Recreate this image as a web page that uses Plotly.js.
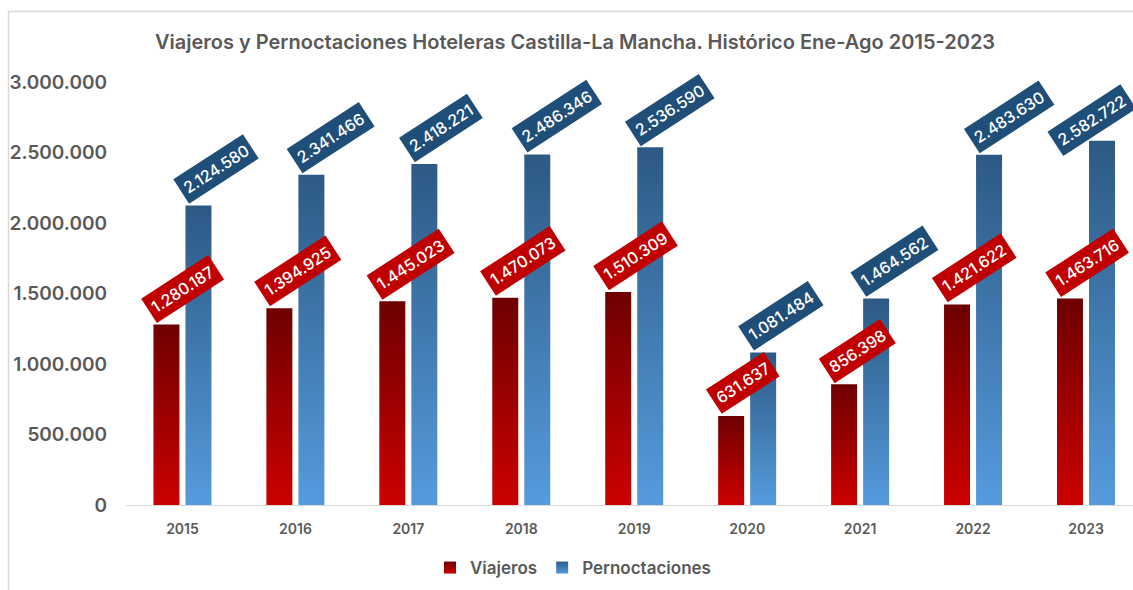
<!DOCTYPE html>
<html>
<head>
<meta charset="utf-8">
<script src="https://cdn.plot.ly/plotly-3.0.1.min.js"></script>
<style>
  html, body { margin: 0; padding: 0; background: #fff; }
  #grafico { width: 1133px; height: 590px; }
</style>
</head>
<body>
<div id="grafico"></div>
<script>
const anios = ["2015", "2016", "2017", "2018", "2019", "2020", "2021", "2022", "2023"];
const viajeros = [1280187, 1394925, 1445023, 1470073, 1510309, 631637, 856398, 1421622, 1463716];
const pernoctaciones = [2124580, 2341466, 2418221, 2486346, 2536590, 1081484, 1464562, 2483630, 2582722];
const ticksY = [0, 500000, 1000000, 1500000, 2000000, 2500000, 3000000];

const posX = anios.map((a, i) => i);
const ancho = 0.23;
const offRojo = -0.257;
const offAzul = 0.0265;

// miles con punto
const fmt = v => String(v).replace(/\B(?=(\d{3})+(?!\d))/g, ".");

// marco gris (coordenadas de papel a partir de pixeles)
const mL = 126, mT = 82, mB = 85, W = 1133, H = 590;
const pw = W - mL, ph = H - mT - mB;
const px = p => (p - mL) / pw;
const py = p => (H - mB - p) / ph;

const etiquetas = [];
viajeros.forEach((v, i) => etiquetas.push({
  x: i + offRojo, y: v, xref: "x", yref: "y",
  text: fmt(v), showarrow: false, textangle: -33,
  xanchor: "left", yanchor: "bottom", xshift: -13, yshift: 1,
  bgcolor: "#c00000", borderpad: 4,
  font: { family: "Inter, sans-serif", size: 16, color: "#ffffff", weight: 500 }
}));
pernoctaciones.forEach((v, i) => {
  // la ultima etiqueta se recoge hacia dentro del grafico
  const ultima = i === pernoctaciones.length - 1;
  etiquetas.push({
    x: i + offAzul, y: v, xref: "x", yref: "y",
    text: fmt(v), showarrow: false, textangle: -33,
    xanchor: "left", yanchor: "bottom",
    xshift: ultima ? -42 : -13, yshift: ultima ? -16 : 1,
    bgcolor: "#1f4e79", borderpad: 4,
    font: { family: "Inter, sans-serif", size: 16, color: "#ffffff", weight: 500 }
  });
});

const trazas = [
  {
    type: "bar", name: "Viajeros", x: posX, y: viajeros,
    offset: offRojo, width: ancho,
    marker: { color: "#a00000" }, hoverinfo: "skip"
  },
  {
    type: "bar", name: "Pernoctaciones", x: posX, y: pernoctaciones,
    offset: offAzul, width: ancho,
    marker: { color: "#4682c0" }, hoverinfo: "skip"
  }
];

const layout = {
  width: W, height: H,
  margin: { l: mL, r: 0, t: mT, b: mB },
  paper_bgcolor: "#ffffff", plot_bgcolor: "#ffffff",
  separators: ",.",
  barmode: "overlay",
  font: { family: "Inter, sans-serif", color: "#595959" },
  title: {
    text: "Viajeros y Pernoctaciones Hoteleras Castilla-La Mancha. Histórico Ene-Ago 2015-2023",
    xref: "container", x: 575 / W, xanchor: "center",
    yref: "container", y: 1 - 42 / H, yanchor: "middle",
    font: { family: "Inter, sans-serif", size: 20, color: "#595959", weight: 600 }
  },
  xaxis: {
    range: [-0.5, (W - 182) / 113],
    tickvals: posX, ticktext: anios,
    showgrid: false, zeroline: false,
    showline: true, linecolor: "#d9d9d9", linewidth: 1,
    ticks: "", ticklabelstandoff: 11,
    tickfont: { family: "Inter, sans-serif", size: 14, color: "#595959", weight: 600 }
  },
  yaxis: {
    range: [0, 3000000],
    tickvals: ticksY, tickformat: ",d",
    showgrid: false, zeroline: false, showline: false,
    ticks: "", ticklabelstandoff: 18,
    tickfont: { family: "Inter, sans-serif", size: 19, color: "#595959", weight: 600 }
  },
  showlegend: true,
  legend: {
    orientation: "h",
    xref: "container", x: 573 / W, xanchor: "center",
    yref: "container", y: 1 - 568 / H, yanchor: "middle",
    font: { family: "Inter, sans-serif", size: 17, color: "#595959", weight: 600 },
    itemwidth: 30
  },
  annotations: etiquetas,
  shapes: [
    { type: "line", xref: "paper", yref: "paper", x0: px(8), x1: px(1140), y0: py(11.5), y1: py(11.5),
      line: { color: "#d9d9d9", width: 1.5 } },
    { type: "line", xref: "paper", yref: "paper", x0: px(8.5), x1: px(8.5), y0: py(11.5), y1: py(600),
      line: { color: "#d9d9d9", width: 1.5 } }
  ]
};

Plotly.newPlot("grafico", trazas, layout, { displayModeBar: false, staticPlot: true }).then(gd => {
  // degradado vertical de cada barra (oscuro arriba, claro abajo)
  const ns = "http://www.w3.org/2000/svg";
  const defs = gd.querySelector("svg.main-svg defs");
  const degradados = [
    { id: "degRojo", arriba: "#6e0000", abajo: "#cc0000" },
    { id: "degAzul", arriba: "#2d5984", abajo: "#559bdd" }
  ];
  degradados.forEach(d => {
    const g = document.createElementNS(ns, "linearGradient");
    g.setAttribute("id", d.id);
    g.setAttribute("x1", "0"); g.setAttribute("y1", "0");
    g.setAttribute("x2", "0"); g.setAttribute("y2", "1");
    [[0, d.arriba], [1, d.abajo]].forEach(([o, c]) => {
      const s = document.createElementNS(ns, "stop");
      s.setAttribute("offset", o);
      s.setAttribute("stop-color", c);
      g.appendChild(s);
    });
    defs.appendChild(g);
  });
  gd.querySelectorAll(".barlayer .trace.bars").forEach((t, i) => {
    t.querySelectorAll("path").forEach(p => { p.style.fill = "url(#" + degradados[i].id + ")"; });
  });
  gd.querySelectorAll(".legend .traces").forEach((t, i) => {
    t.querySelectorAll(".legendpoints path").forEach(p => { p.style.fill = "url(#" + degradados[i].id + ")"; });
  });
});
</script>
</body>
</html>
